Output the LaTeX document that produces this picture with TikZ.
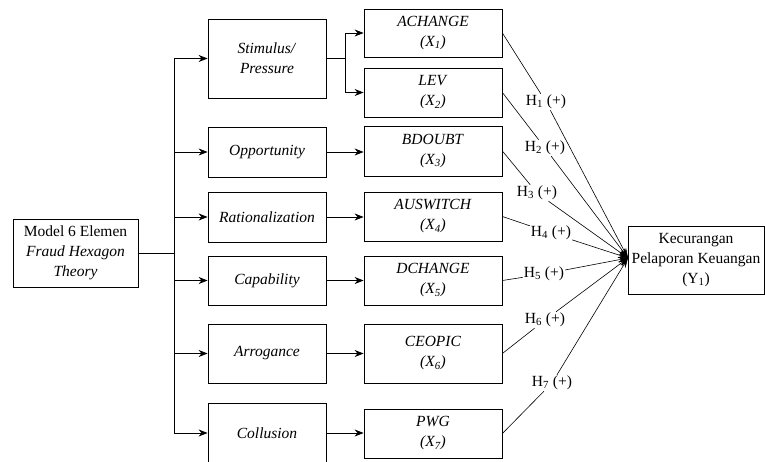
\documentclass[tikz,border=0pt]{standalone}
\usepackage{fontspec}
\setmainfont{Liberation Serif}[ItalicFont={Liberation Serif Italic},BoldFont={Liberation Serif Bold}]
\usetikzlibrary{arrows.meta}
\begin{document}
\begin{tikzpicture}[x=1pt,y=-1pt,
  box/.style={draw, line width=0.8pt, inner sep=0pt, align=center, font=\fontsize{15.5}{20}\selectfont},
  lbl/.style={inner sep=1pt, font=\fontsize{15.5}{18}\selectfont},
  conn/.style={line width=0.8pt},
  arr/.style={line width=0.8pt, -{Stealth[length=9pt,width=7pt]}},
  harr/.style={line width=0.6pt, -{Stealth[length=10pt,width=6pt]}}]
\useasboundingbox (0,0) rectangle (765,461);
\clip (0,0) rectangle (765,461);
% left box
\node[box, minimum width=125pt, minimum height=68pt] (m) at (75.5,253) {Model 6 Elemen\\\textit{Fraud Hexagon}\\\textit{Theory}};
% middle boxes
\node[box, minimum width=118pt, minimum height=79pt] (s1) at (267,58.5) {\textit{Stimulus/}\\\textit{Pressure}};
\node[box, minimum width=118pt, minimum height=50pt] (s2) at (267,152) {\textit{Opportunity}};
\node[box, minimum width=118pt, minimum height=50pt] (s3) at (267,217) {\textit{Rationalization}};
\node[box, minimum width=118pt, minimum height=49pt] (s4) at (267,280.5) {\textit{Capability}};
\node[box, minimum width=118pt, minimum height=59pt] (s5) at (267,353.5) {\textit{Arrogance}};
\node[box, minimum width=118pt, minimum height=60pt] (s6) at (267,433) {\textit{Collusion}};
% variable boxes
\node[box, minimum width=138pt, minimum height=48pt] (x1) at (433,33) {\textit{ACHANGE}\\\textit{(X\textsubscript{1})}};
\node[box, minimum width=138pt, minimum height=49pt] (x2) at (433,92.5) {\textit{LEV}\\\textit{(X\textsubscript{2})}};
\node[box, minimum width=138pt, minimum height=50pt] (x3) at (433,151) {\textit{BDOUBT}\\\textit{(X\textsubscript{3})}};
\node[box, minimum width=138pt, minimum height=49pt] (x4) at (433,216.5) {\textit{AUSWITCH}\\\textit{(X\textsubscript{4})}};
\node[box, minimum width=138pt, minimum height=49pt] (x5) at (433,280.5) {\textit{DCHANGE}\\\textit{(X\textsubscript{5})}};
\node[box, minimum width=138pt, minimum height=59pt] (x6) at (433,353.5) {\textit{CEOPIC}\\\textit{(X\textsubscript{6})}};
\node[box, minimum width=138pt, minimum height=49pt] (x7) at (433,433.5) {\textit{PWG}\\\textit{(X\textsubscript{7})}};
% result box
\node[box, minimum width=136pt, minimum height=68pt] (y) at (696,260) {Kecurangan\\Pelaporan Keuangan\\(Y\textsubscript{1})};
\coordinate (tgt) at (628,258);
% trunk
\coordinate (vt) at (174,58.5);
\coordinate (vb) at (174,433);
\coordinate (vm) at (174,253);
\draw[conn] (m.east) -- (vm);
\draw[conn] (vt) -- (vb);
\draw[arr] (vt) -- (s1.west);
\draw[arr] (vt |- s2.west) -- (s2.west);
\draw[arr] (vt |- s3.west) -- (s3.west);
\draw[arr] (vt |- s4.west) -- (s4.west);
\draw[arr] (vt |- s5.west) -- (s5.west);
\draw[arr] (vb) -- (s6.west);
% branch from stimulus
\coordinate (br) at (345,58.5);
\draw[conn] (s1.east) -- (br);
\draw[arr] (br) |- (x1.west);
\draw[arr] (br) |- (x2.west);
\draw[arr] (s2.east) -- (s2.east -| x3.west);
\draw[arr] (s3.east) -- (s3.east -| x4.west);
\draw[arr] (s4.east) -- (s4.east -| x5.west);
\draw[arr] (s5.east) -- (s5.east -| x6.west);
\draw[arr] (s6.east) -- (s6.east -| x7.west);
% hypothesis labels
\node[lbl] (h1) at (546,102) {H\textsubscript{1} (+)};
\node[lbl] (h2) at (545,148) {H\textsubscript{2} (+)};
\node[lbl] (h3) at (537,193) {H\textsubscript{3} (+)};
\node[lbl] (h4) at (551,233) {H\textsubscript{4} (+)};
\node[lbl] (h5) at (544,274) {H\textsubscript{5} (+)};
\node[lbl] (h6) at (545,320) {H\textsubscript{6} (+)};
\node[lbl] (h7) at (552,383) {H\textsubscript{7} (+)};
\foreach \i in {1,...,7}{
  \draw[line width=0.6pt] (x\i.east) -- (h\i);
  \draw[harr] (h\i) -- (tgt);
}
\end{tikzpicture}
\end{document}
